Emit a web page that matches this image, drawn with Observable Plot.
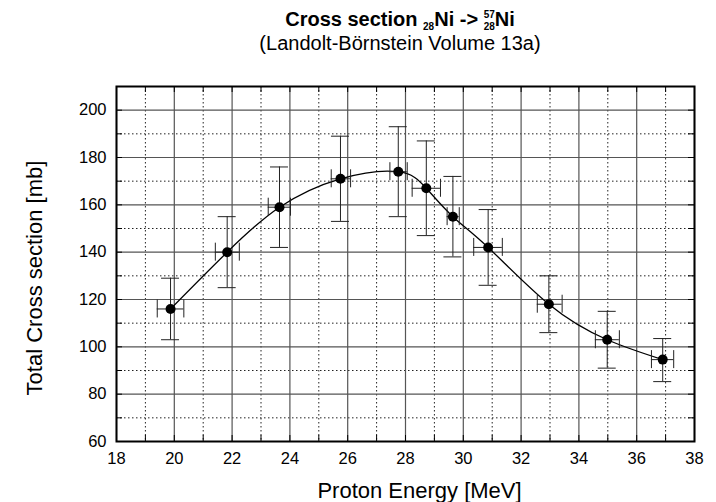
<!DOCTYPE html>
<html>
<head>
<meta charset="utf-8">
<script src="https://cdn.jsdelivr.net/npm/d3@7"></script>
<script src="https://cdn.jsdelivr.net/npm/@observablehq/plot@0.6"></script>
<style>
  body { margin: 0; background: #fff; font-family: "Liberation Sans", Arial, Helvetica, sans-serif; color: #000; }
  #wrap { width: 716px; }
  #head { position: relative; height: 60px; }
  .t { position: absolute; left: 84px; right: 0; text-align: center; white-space: nowrap; }
  #title { top: 8px; font-size: 20px; font-weight: bold; line-height: 22px; }
  #sub { top: 32px; font-size: 20px; line-height: 22px; }
  .sb { font-size: 10px; vertical-align: -4px; line-height: 0; }
  .iso { display: inline-block; font-size: 10px; line-height: 12px; vertical-align: -4px; text-align: left; }
  .iso span { display: block; height: 12px; }
</style>
</head>
<body>
<div id="wrap">
  <div id="head">
    <div class="t" id="title">Cross section <span class="sb">28</span>Ni -&gt; <span class="iso"><span>57</span><span>28</span></span>Ni</div>
    <div class="t" id="sub">(Landolt-Börnstein Volume 13a)</div>
  </div>
  <div id="chart"></div>
</div>
<script>
// Data
const energy   = [19.87, 21.83, 23.64, 25.75, 27.75, 28.72, 29.64, 30.86, 32.96, 34.98, 36.9];
const sigma    = [116, 140, 159, 171, 174, 167, 155, 142, 118, 103, 94.6];
const sigmaLow = [103, 125, 142, 153, 155, 147, 138, 126, 106, 91, 85.3];
const sigmaHigh= [129, 155, 176, 189, 193, 187, 172, 158, 130, 115, 103.5];
const energyLow  = [19.41, 21.42, 23.25, 25.43, 27.46, 28.23, 29.44, 30.36, 32.56, 34.57, 36.51];
const energyHigh = [20.33, 22.25, 24.02, 26.1, 28.06, 29.21, 29.86, 31.35, 33.42, 35.4, 37.28];

const xMajorTicks = [18, 20, 22, 24, 26, 28, 30, 32, 34, 36, 38];
const xMinorTicks = [19, 21, 23, 25, 27, 29, 31, 33, 35, 37];
const yMajorTicks = [60, 80, 100, 120, 140, 160, 180, 200];
const yMinorTicks = [70, 90, 110, 130, 150, 170, 190];
const xDomain = [18, 38];
const yDomain = [60, 210];

const xLabel = "Proton Energy [MeV]";
const yLabel = "Total Cross section [mb]";

const points = energy.map((e, i) => ({
  e, s: sigma[i], yl: sigmaLow[i], yh: sigmaHigh[i], xl: energyLow[i], xh: energyHigh[i]
}));
const xAllTicks = xMajorTicks.concat(xMinorTicks);
const yAllTicks = yMajorTicks.concat(yMinorTicks, [210]);

const W = 716, H = 442, mt = 26, mb = 61, ml = 116, mr = 22;
const innerH = H - mt - mb, innerW = W - ml - mr;
const tickLen = 6, cap = 9;

const chart = Plot.plot({
  width: W, height: H,
  marginTop: mt, marginBottom: mb, marginLeft: ml, marginRight: mr,
  x: { domain: xDomain },
  y: { domain: yDomain },
  style: { fontFamily: "'Liberation Sans', Arial, Helvetica, sans-serif", background: "white", color: "black" },
  marks: [
    Plot.ruleX(xMinorTicks, { stroke: "#222", strokeWidth: 1, strokeDasharray: "1.5,2.5" }),
    Plot.ruleY(yMinorTicks, { stroke: "#222", strokeWidth: 1, strokeDasharray: "1.5,2.5" }),
    Plot.ruleX(xMajorTicks, { stroke: "#555", strokeWidth: 1.2 }),
    Plot.ruleY(yMajorTicks, { stroke: "#555", strokeWidth: 1.2 }),
    Plot.tickX(xAllTicks, { stroke: "black", insetTop: innerH - tickLen }),
    Plot.tickX(xAllTicks, { stroke: "black", insetBottom: innerH - tickLen }),
    Plot.tickY(yAllTicks, { stroke: "black", insetRight: innerW - tickLen }),
    Plot.tickY(yAllTicks, { stroke: "black", insetLeft: innerW - tickLen }),
    Plot.axisX(xMajorTicks, { tickSize: 0, tickPadding: 11, fontSize: 16.5, label: null }),
    Plot.axisY(yMajorTicks, { tickSize: 0, tickPadding: 10, fontSize: 16.5, label: null }),
    Plot.frame({ stroke: "black", strokeWidth: 2 }),
    Plot.line(points, { x: "e", y: "s", curve: "natural", stroke: "black", strokeWidth: 1.3 }),
    Plot.ruleX(points, { x: "e", y1: "yl", y2: "yh", stroke: "#222" }),
    Plot.ruleY(points, { y: "yl", x1: "e", x2: "e", insetLeft: -cap, insetRight: -cap, stroke: "#222" }),
    Plot.ruleY(points, { y: "yh", x1: "e", x2: "e", insetLeft: -cap, insetRight: -cap, stroke: "#222" }),
    Plot.ruleY(points, { y: "s", x1: "xl", x2: "xh", stroke: "#222" }),
    Plot.ruleX(points, { x: "xl", y1: "s", y2: "s", insetTop: -cap, insetBottom: -cap, stroke: "#222" }),
    Plot.ruleX(points, { x: "xh", y1: "s", y2: "s", insetTop: -cap, insetBottom: -cap, stroke: "#222" }),
    Plot.dot(points, { x: "e", y: "s", r: 5, fill: "black", stroke: "none" }),
    Plot.text([xLabel], { text: d => d, frameAnchor: "bottom", textAnchor: "middle", lineAnchor: "top", dy: 41, dx: 14, fontSize: 22, fill: "black" }),
    Plot.text([yLabel], { text: d => d, frameAnchor: "left", textAnchor: "middle", lineAnchor: "middle", rotate: -90, dx: -82, dy: 14, fontSize: 22, fill: "black" })
  ]
});
document.getElementById("chart").appendChild(chart);
</script>
</body>
</html>
